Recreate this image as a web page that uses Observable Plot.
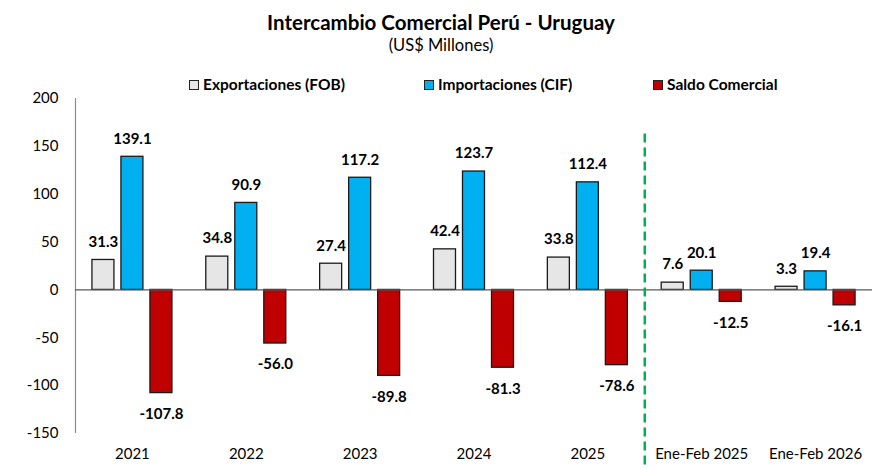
<!DOCTYPE html>
<html>
<head>
<meta charset="utf-8">
<script src="https://cdn.jsdelivr.net/npm/d3@7"></script>
<script src="https://cdn.jsdelivr.net/npm/@observablehq/plot@0.6"></script>
<style>
  body { margin: 0; background: #fff; font-family: Lato, "Open Sans", sans-serif; color: #000; }
  #wrap { width: 882px; height: 469px; position: relative; overflow: hidden; }
  #head { position: relative; width: 882px; height: 92px; }
  .title { position: absolute; left: 0; width: 882px; top: 10px; text-align: center; font-weight: 700; font-size: 20.5px; line-height: 24px; }
  .subtitle { position: absolute; left: 0; width: 882px; top: 35px; text-align: center; font-size: 16.5px; line-height: 20px; }
  .leg { position: absolute; top: 76px; display: flex; align-items: center; font-weight: 700; font-size: 15.5px; line-height: 17px; white-space: nowrap; }
  .sw { width: 8px; height: 8px; border: 1px solid #222; margin-right: 4px; }
  svg { display: block; }
</style>
</head>
<body>
<div id="wrap">
  <div id="head">
    <div class="title">Intercambio Comercial Perú - Uruguay</div>
    <div class="subtitle">(US$ Millones)</div>
    <div id="legend"></div>
  </div>
  <div id="chart"></div>
</div>
<script>
const categories = ["2021", "2022", "2023", "2024", "2025", "Ene-Feb 2025", "Ene-Feb 2026"];
const exportaciones = [31.3, 34.8, 27.4, 42.4, 33.8, 7.6, 3.3];
const importaciones = [139.1, 90.9, 117.2, 123.7, 112.4, 20.1, 19.4];
const saldoComercial = [-107.8, -56.0, -89.8, -81.3, -78.6, -12.5, -16.1];
const seriesNames = ["Exportaciones (FOB)", "Importaciones (CIF)", "Saldo Comercial"];
const seriesColors = ["#e7e6e6", "#00b0f0", "#c00000"];
const yTicks = [-150, -100, -50, 0, 50, 100, 150, 200];
const separatorBefore = "Ene-Feb 2025";

const seriesValues = [exportaciones, importaciones, saldoComercial];
const rows = [];
seriesValues.forEach((vals, s) => {
  categories.forEach((c, i) => rows.push({cat: c, series: seriesNames[s], s, value: vals[i]}));
});

// legend
const legendLeft = [189, 424, 653];
const legend = document.getElementById("legend");
seriesNames.forEach((n, i) => {
  const d = document.createElement("div");
  d.className = "leg";
  d.style.left = legendLeft[i] + "px";
  d.innerHTML = `<span class="sw" style="background:${seriesColors[i]}"></span>${n}`;
  legend.appendChild(d);
});

const width = 882, height = 377;
const marginLeft = 75, marginRight = 10, marginTop = 6, marginBottom = 36;
const step = (width - marginLeft - marginRight) / categories.length;
const barW = 22, gap = 29;
const fmt = v => v.toFixed(1);

const marks = [];
// y axis line
marks.push(Plot.ruleX([categories[0]], {x: d => d, dx: -step / 2, y1: 200, y2: -150, stroke: "#8c8c8c", strokeWidth: 1.2}));
seriesNames.forEach((name, s) => {
  const off = (s - 1) * gap;
  const insetLeft = step / 2 + off - barW / 2;
  const insetRight = step - insetLeft - barW;
  const data = rows.filter(r => r.s === s);
  marks.push(Plot.barY(data, {x: "cat", y: "value", fill: seriesColors[s], stroke: "#1a1a1a", strokeWidth: 1.3, insetLeft, insetRight}));
});
marks.push(Plot.ruleY([0], {stroke: "#595959", strokeWidth: 1.2}));
seriesNames.forEach((name, s) => {
  const off = (s - 1) * gap;
  const data = rows.filter(r => r.s === s);
  marks.push(Plot.text(data.filter(r => r.value >= 0), {x: "cat", y: "value", text: d => fmt(d.value), dx: off, dy: -18, fontWeight: "bold", fontSize: 15, fill: "#000"}));
  marks.push(Plot.text(data.filter(r => r.value < 0), {x: "cat", y: "value", text: d => fmt(d.value), dx: off, dy: 21, fontWeight: "bold", fontSize: 15, fill: "#000"}));
});
// separator
marks.push(Plot.ruleX([separatorBefore], {x: d => d, dx: -step / 2, y1: 163, y2: -184, stroke: "#00b050", strokeWidth: 2.5, strokeDasharray: "9,5"}));

const chart = Plot.plot({
  width, height, marginLeft, marginRight, marginTop, marginBottom,
  style: {fontFamily: "Lato, 'Open Sans', sans-serif", fontSize: "15px", color: "#000", background: "#fff", overflow: "visible"},
  x: {domain: categories, padding: 0, round: false, label: null, tickSize: 0, tickPadding: 15},
  y: {domain: [-150, 200], ticks: yTicks, tickSize: 0, tickPadding: 17, label: null, tickFormat: d => String(d)},
  marks
});
document.getElementById("chart").appendChild(chart);
</script>
</body>
</html>
